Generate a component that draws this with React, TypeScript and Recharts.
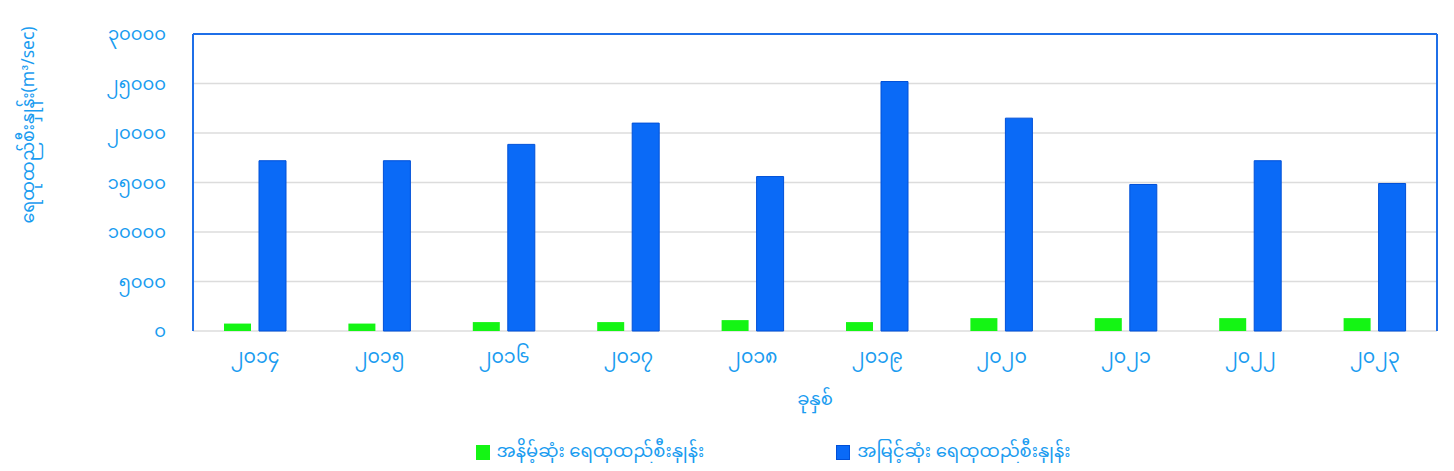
import React from "react";
import { BarChart, Bar, XAxis, YAxis, CartesianGrid, Legend } from "recharts";

const years = ["၂၀၁၄", "၂၀၁၅", "၂၀၁၆", "၂၀၁၇", "၂၀၁၈", "၂၀၁၉", "၂၀၂၀", "၂၀၂၁", "၂၀၂၂", "၂၀၂၃"];
const minFlow = [750, 750, 900, 900, 1100, 900, 1300, 1300, 1300, 1300];
const maxFlow = [17200, 17200, 18850, 21000, 15600, 25200, 21500, 14800, 17200, 14900];
const yTicks = [0, 5000, 10000, 15000, 20000, 25000, 30000];

const minName = "အနိမ့်ဆုံး ရေထုထည်စီးနှုန်း";
const maxName = "အမြင့်ဆုံး ရေထုထည်စီးနှုန်း";
const yTitle = "ရေထုထည်စီးနှုန်း(m³/sec)";
const xTitle = "ခုနှစ်";

const data = years.map((y, i) => ({ year: y, min: minFlow[i], max: maxFlow[i] }));

const MY_DIGITS = ["၀", "၁", "၂", "၃", "၄", "၅", "၆", "၇", "၈", "၉"];
const toMy = (n: number) => String(n).split("").map((c) => MY_DIGITS[Number(c)] ?? c).join("");

const FONT = "'Noto Sans Myanmar', 'Padauk', 'Myanmar Text', 'Noto Sans', sans-serif";
const TEXT = "#1a9cf0";
const BORDER = "#1f6fe8";
const GREEN = "#14f514";
const BLUE = "#0a6af7";

const YTitle = () => (
  <text
    x={22}
    y={117}
    transform="rotate(-90 22 117)"
    textAnchor="middle"
    dominantBaseline="central"
    fill={TEXT}
    fontSize={17.5}
    fontFamily={FONT}
  >
    {yTitle}
  </text>
);

const LegendContent = () => (
  <div style={{ display: "flex", justifyContent: "center", fontFamily: FONT, fontSize: 18, color: TEXT, paddingLeft: 100 }}>
    <div style={{ display: "flex", alignItems: "center", marginRight: 132 }}>
      <span style={{ display: "inline-block", width: 14, height: 15, background: GREEN, marginRight: 7 }} />
      <span>{minName}</span>
    </div>
    <div style={{ display: "flex", alignItems: "center" }}>
      <span style={{ display: "inline-block", width: 14, height: 15, background: BLUE, border: "1px solid #0050d8", boxSizing: "border-box", marginRight: 7 }} />
      <span>{maxName}</span>
    </div>
  </div>
);

export default function App() {
  return (
    <div style={{ width: 1438, height: 455, background: "#fff" }}>
      <BarChart
        width={1438}
        height={455}
        data={data}
        margin={{ top: 25, right: 8, left: 0, bottom: 0 }}
        barSize={27}
        barGap={8}
      >
        <CartesianGrid horizontal vertical={false} stroke="#dcdcdc" strokeWidth={1.5} />
        <XAxis
          dataKey="year"
          tickLine={false}
          axisLine={false}
          tick={{ fill: TEXT, fontSize: 19, fontFamily: FONT }}
          tickMargin={13}
          height={102}
          interval={0}
          label={{ value: xTitle, position: "insideBottom", offset: 28, fill: TEXT, fontSize: 18, fontFamily: FONT }}
        />
        <XAxis xAxisId="top" orientation="top" dataKey="year" tick={false} tickLine={false} height={1} axisLine={{ stroke: BORDER, strokeWidth: 2 }} />
        <YAxis
          domain={[0, 30000]}
          ticks={yTicks}
          tickFormatter={toMy}
          tickLine={false}
          tickSize={0}
          tickMargin={27}
          width={185}
          axisLine={{ stroke: BORDER, strokeWidth: 2 }}
          tick={{ fill: TEXT, fontSize: 18, fontFamily: FONT }}
          label={<YTitle />}
          interval={0}
        />
        <YAxis yAxisId="right" orientation="right" domain={[0, 30000]} tick={false} tickLine={false} width={1} axisLine={{ stroke: BORDER, strokeWidth: 2 }} />
        <Legend verticalAlign="bottom" height={30} content={<LegendContent />} />
        <Bar dataKey="min" name={minName} fill={GREEN} isAnimationActive={false} />
        <Bar dataKey="max" name={maxName} fill={BLUE} stroke="#0050d8" strokeWidth={1} isAnimationActive={false} />
      </BarChart>
    </div>
  );
}
